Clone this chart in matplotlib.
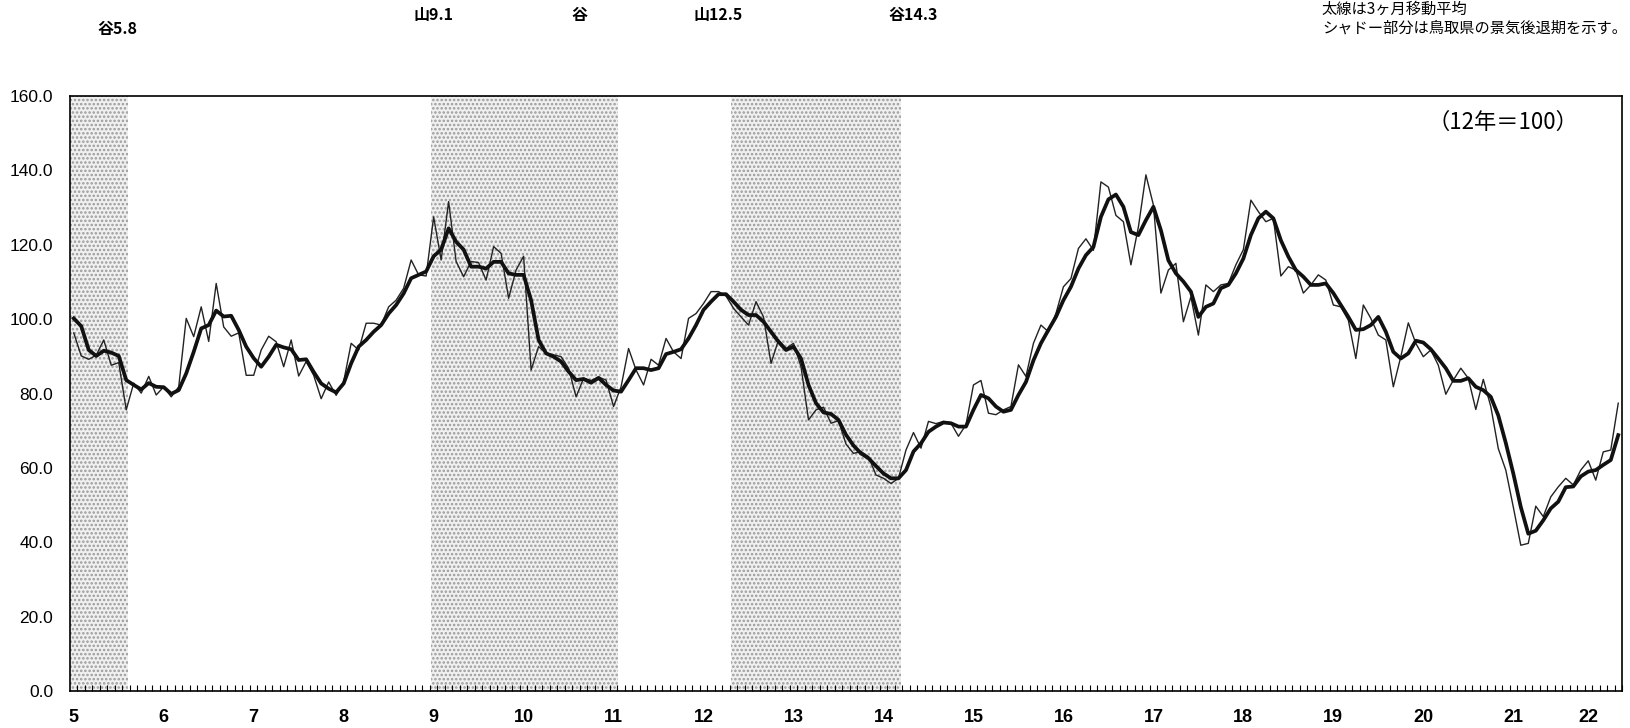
import matplotlib
matplotlib.use("Agg")
import matplotlib.pyplot as plt
import numpy as np

# 原系列（月次、平成5年1月〜22年3月）
raw = [96.3, 90.1, 89.2, 90.3, 94.4, 87.6, 88.3, 75.6, 82.8, 80.1, 84.6, 79.6,
       81.8, 79.1, 81.8, 100.2, 95.3, 103.3, 94.0, 109.6, 97.9, 95.4, 96.3, 84.9,
       84.9, 91.7, 95.4, 93.9, 87.2, 94.4, 84.7, 88.6, 84.9, 78.6, 83.1, 79.5,
       83.2, 93.5, 91.7, 98.9, 98.9, 98.4, 103.3, 105.1, 108.3, 115.9, 111.9, 111.6,
       127.5, 115.9, 131.6, 115.5, 111.4, 115.5, 115.2, 110.5, 119.5, 117.7, 105.6, 113.2,
       116.9, 86.3, 92.6, 90.8, 90.4, 89.9, 86.8, 79.1, 84.1, 83.5, 84.4, 83.6,
       76.5, 81.8, 92.1, 86.3, 82.3, 89.2, 87.6, 94.8, 91.2, 89.4, 100.2, 101.5,
       104.2, 107.4, 107.4, 106.2, 102.9, 100.6, 98.4, 104.7, 100.6, 88.1, 94.4, 92.1,
       93.5, 87.2, 72.9, 75.6, 76.3, 72.0, 72.7, 66.4, 63.9, 64.4, 63.0, 58.1,
       57.2, 55.8, 57.2, 64.8, 69.5, 65.3, 72.5, 71.9, 72.5, 72.0, 68.5, 71.6,
       82.3, 83.5, 74.7, 74.3, 75.6, 76.5, 87.7, 84.6, 93.5, 98.4, 96.6, 101.5,
       108.7, 110.9, 119.0, 121.6, 118.5, 136.9, 135.5, 127.9, 126.2, 114.6, 124.8, 138.8,
       130.7, 107.0, 113.2, 115.0, 99.3, 106.0, 95.7, 109.2, 107.4, 109.2, 109.6, 114.6,
       118.7, 132.0, 128.9, 126.2, 127.1, 111.6, 114.1, 113.2, 107.0, 109.2, 111.9, 110.5,
       103.8, 103.3, 99.7, 89.4, 103.8, 100.2, 95.7, 94.4, 81.8, 89.9, 99.0, 93.5,
       89.9, 91.7, 87.6, 79.8, 83.6, 86.8, 84.1, 75.7, 83.8, 76.5, 65.2, 59.4,
       49.5, 39.2, 39.7, 49.7, 46.9, 52.2, 54.9, 57.2, 55.4, 59.4, 61.9, 56.7,
       64.3, 64.8, 77.4]

# 3ヶ月移動平均（太線）
ma3 = [100.2, 98.1, 91.7, 90.1, 91.5, 91.0, 90.1, 83.6, 82.3, 81.1, 82.8, 81.8,
       81.7, 79.9, 80.9, 85.4, 91.2, 97.5, 98.4, 102.3, 100.7, 100.9, 97.1, 92.6,
       89.5, 87.2, 89.9, 93.1, 92.4, 91.9, 89.0, 89.2, 85.8, 82.7, 81.3, 80.3,
       82.7, 88.1, 92.6, 94.4, 96.6, 98.4, 101.5, 103.8, 106.9, 111.0, 111.9, 112.8,
       116.9, 118.7, 124.4, 120.8, 118.7, 114.1, 114.1, 113.6, 115.4, 115.4, 112.3, 111.9,
       111.9, 105.1, 94.4, 90.8, 89.9, 88.6, 85.9, 83.6, 83.9, 82.9, 84.2, 82.3,
       80.8, 80.5, 83.6, 86.8, 86.8, 86.3, 86.8, 90.6, 91.2, 91.9, 94.8, 98.4,
       102.5, 104.7, 106.7, 106.7, 104.7, 102.5, 101.1, 101.1, 99.3, 96.6, 93.9, 91.7,
       92.6, 89.4, 82.3, 77.4, 74.9, 74.5, 72.9, 68.9, 66.0, 63.9, 62.6, 60.5,
       58.5, 57.2, 57.2, 59.4, 64.4, 66.6, 69.7, 71.1, 72.2, 72.0, 71.1, 71.1,
       75.6, 79.6, 78.7, 76.5, 75.1, 75.6, 79.6, 83.1, 88.9, 93.5, 97.1, 100.6,
       105.1, 108.7, 113.6, 117.2, 119.4, 127.5, 132.2, 133.5, 130.2, 123.4, 122.6, 126.6,
       130.2, 123.9, 115.8, 112.3, 110.1, 107.4, 100.6, 103.3, 104.2, 108.3, 109.2, 112.3,
       116.3, 122.6, 127.1, 128.9, 127.1, 121.2, 116.8, 113.2, 111.4, 109.2, 109.2, 109.6,
       107.0, 103.8, 100.6, 97.1, 97.3, 98.4, 100.6, 96.6, 91.2, 89.4, 90.8, 94.2,
       93.7, 91.9, 89.4, 86.8, 83.4, 83.4, 84.1, 81.8, 80.9, 79.1, 74.1, 66.7,
       58.5, 49.5, 42.3, 43.1, 45.9, 49.1, 50.9, 54.8, 55.0, 57.7, 59.0, 59.4,
       60.8, 62.1, 68.8]

year_labels = ["5", "6", "7", "8", "9", "10", "11", "12", "13", "14",
               "15", "16", "17", "18", "19", "20", "21", "22"]
year_pos = [0, 12, 24, 36, 48, 60, 72, 84, 96, 108, 120, 132, 144, 156, 168, 180, 192, 202]

# 景気後退期（月インデックス）
recessions = [(-0.5, 7.3), (47.6, 72.6), (87.7, 110.4)]

# 山・谷の注記
turn_labels = ["谷5.8", "山9.1", "谷", "山12.5", "谷14.3"]
turn_xy = [(117, 29), (434, 15), (579, 15), (718, 15), (913, 15)]

W, H = 1631, 728
jp = ["Noto Sans CJK JP", "DejaVu Sans"]
plt.rcParams["font.family"] = ["Liberation Sans", "DejaVu Sans"]
plt.rcParams["hatch.linewidth"] = 1.2

fig = plt.figure(figsize=(W / 100, H / 100), dpi=100)
ax = fig.add_axes([70 / W, 1 - 691 / H, 1552 / W, 595 / H])

x = np.arange(len(raw))
for a, b in recessions:
    ax.axvspan(a, b, facecolor="#f0f0f0", edgecolor="#9a9a9a", hatch="....",
               linewidth=0, zorder=0)

ax.plot(x, raw, color="#222222", lw=1.0, zorder=3)
ax.plot(x, ma3, color="#111111", lw=2.7, zorder=4)

ax.set_xlim(-0.5, len(raw) - 0.5)
ax.set_ylim(0, 160)
ax.set_yticks(np.arange(0, 161, 20))
ax.set_yticklabels([f"{v:.1f}" for v in np.arange(0, 161, 20)], fontsize=12.5)
ax.tick_params(axis="y", length=0, pad=12)

ax.set_xticks(year_pos)
ax.set_xticklabels(year_labels, fontsize=13, fontweight="bold")
ax.set_xticks(np.arange(len(raw)) + 0.5, minor=True)
ax.tick_params(axis="x", which="major", length=0, pad=13)
ax.tick_params(axis="x", which="minor", direction="in", length=4, width=0.8)

for s in ax.spines.values():
    s.set_linewidth(1.2)
    s.set_color("black")

fig.text(1503 / W, 1 - 122 / H, "（12年＝100）", family=jp, fontsize=16,
         ha="center", va="center")

for lab, (px, py) in zip(turn_labels, turn_xy):
    fig.text(px / W, 1 - py / H, lab, family=jp, fontsize=11.5, fontweight="bold",
             ha="center", va="center")

fig.text(1322 / W, 1 - 9 / H, "太線は3ヶ月移動平均", family=jp, fontsize=11,
         ha="left", va="center")
fig.text(1322 / W, 1 - 28 / H, "シャドー部分は鳥取県の景気後退期を示す。", family=jp,
         fontsize=11, ha="left", va="center")

fig.savefig("out.png", dpi=100)
